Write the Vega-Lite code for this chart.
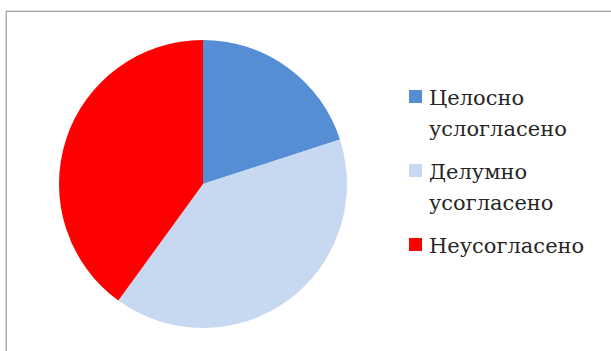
{
  "$schema": "https://vega.github.io/schema/vega-lite/v6.json",
  "autosize": "none",
  "width": 606,
  "height": 341,
  "padding": {"left": 6, "top": 11, "right": 0, "bottom": 0},
  "background": "white",
  "view": {"stroke": "#a0a0a0", "strokeWidth": 1.25},
  "config": {
    "style": {"guide-label": {"font": "DejaVu Serif", "fontSize": 21, "lineHeight": 31, "dy": 8, "fill": "#262626"}}
  },
  "data": {"values": [
    {"category": "Целосно услогласено", "value": 20, "order": 1},
    {"category": "Делумно усогласено", "value": 40, "order": 2},
    {"category": "Неусогласено", "value": 40, "order": 3}
  ]},
  "mark": {"type": "arc", "outerRadius": 144, "x": 197, "y": 173},
  "encoding": {
    "theta": {"field": "value", "type": "quantitative", "stack": true},
    "order": {"field": "order", "type": "quantitative"},
    "color": {
      "field": "category",
      "type": "nominal",
      "sort": ["Целосно услогласено", "Делумно усогласено", "Неусогласено"],
      "scale": {
        "domain": ["Целосно услогласено", "Делумно усогласено", "Неусогласено"],
        "range": ["#558ED5", "#C6D9F1", "#FF0000"]
      },
      "legend": {
        "title": null,
        "orient": "none",
        "legendX": 399,
        "legendY": 75,
        "symbolType": "square",
        "symbolSize": 169,
        "symbolStrokeWidth": 0,
        "labelFont": "DejaVu Serif",
        "labelFontSize": 21,
        "labelColor": "#262626",
        "labelOffset": 3,
        "labelLimit": 250,
        "rowPadding": 20,
        "labelExpr": "datum.label == 'Неусогласено' ? '\u00a0Неусогласено' : split(datum.label, ' ')",
        "labelBaseline": "alphabetic"
      }
    }
  }
}
